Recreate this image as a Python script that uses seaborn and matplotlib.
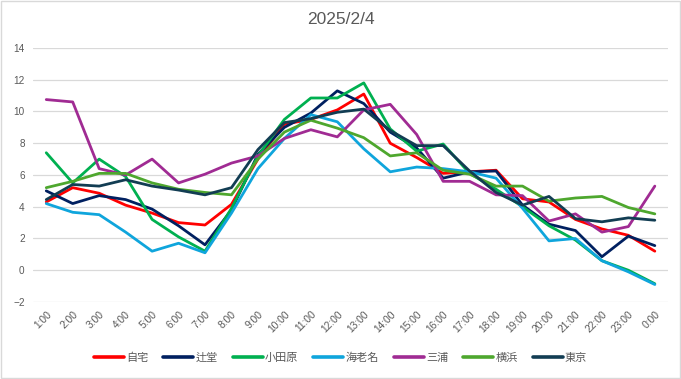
import seaborn as sns
import matplotlib.pyplot as plt
import pandas as pd

hours = ["1:00", "2:00", "3:00", "4:00", "5:00", "6:00", "7:00", "8:00", "9:00", "10:00",
         "11:00", "12:00", "13:00", "14:00", "15:00", "16:00", "17:00", "18:00", "19:00",
         "20:00", "21:00", "22:00", "23:00", "0:00"]

jitaku = [4.3, 5.2, 4.85, 4.1, 3.6, 3.0, 2.85, 4.15, 7.0, 9.2, 9.5, 10.1,
          11.1, 8.0, 7.1, 6.1, 6.2, 6.3, 4.5, 4.3, 3.2, 2.6, 2.2, 1.2]
tsujido = [5.0, 4.2, 4.7, 4.45, 3.85, 2.8, 1.6, 3.8, 7.3, 9.0, 9.9, 11.3,
           10.5, 8.7, 7.7, 5.8, 6.2, 6.25, 4.1, 2.9, 2.5, 0.85, 2.15, 1.55]
odawara = [7.4, 5.5, 7.0, 5.9, 3.2, 2.1, 1.2, 3.9, 7.2, 9.5, 10.85, 10.85,
           11.8, 8.9, 7.5, 7.95, 6.1, 5.1, 4.0, 2.8, 1.9, 0.6, 0.0, -0.85]
ebina = [4.2, 3.65, 3.5, 2.4, 1.2, 1.7, 1.1, 3.6, 6.4, 8.3, 9.8, 9.35,
         7.65, 6.2, 6.5, 6.4, 6.2, 5.8, 3.9, 1.85, 2.0, 0.6, -0.1, -0.9]
miura = [10.75, 10.6, 6.4, 6.0, 7.0, 5.5, 6.05, 6.75, 7.2, 8.3, 8.85, 8.4,
         10.1, 10.45, 8.55, 5.6, 5.6, 4.75, 4.7, 3.1, 3.55, 2.4, 2.75, 5.3]
yokohama = [5.2, 5.6, 6.1, 6.1, 5.5, 5.1, 4.9, 4.75, 7.0, 8.7, 9.45, 8.95,
            8.35, 7.2, 7.4, 6.3, 6.05, 5.3, 5.3, 4.35, 4.55, 4.65, 3.95, 3.55]
tokyo = [4.45, 5.4, 5.3, 5.7, 5.3, 5.05, 4.75, 5.2, 7.6, 9.3, 9.55, 9.95,
         10.15, 8.8, 7.85, 7.85, 6.25, 4.9, 4.1, 4.65, 3.25, 3.05, 3.3, 3.15]

places = ["自宅", "辻堂", "小田原", "海老名", "三浦", "横浜", "東京"]
colors = ["#FF0000", "#002060", "#00B050", "#0FA5DC", "#A02B93", "#4EA72E", "#123D53"]

series = [jitaku, tsujido, odawara, ebina, miura, yokohama, tokyo]
rows = []
for name, vals in zip(places, series):
    for i, v in enumerate(vals):
        rows.append({"pos": i, "place": name, "temp": v})
df = pd.DataFrame(rows)

sns.set_style("white")
plt.rcParams['font.family'] = ['Liberation Sans', 'Noto Sans CJK JP', 'DejaVu Sans']

fig = plt.figure(figsize=(6.81, 3.79), dpi=100)
ax = fig.add_axes([0.0485, 0.2032, 0.9325, 0.6702])

sns.lineplot(data=df, x="pos", y="temp", hue="place", hue_order=places,
             palette=colors, linewidth=2.0, ax=ax, legend=True)

ax.set_xlim(-0.5, 23.5)
ax.set_ylim(-2, 14)
ax.set_yticks(range(-2, 15, 2))
ax.set_xticks(range(len(hours)))
ax.set_xticklabels(hours, rotation=45, ha="right", rotation_mode="anchor")
ax.tick_params(axis="y", labelsize=7.2, colors="#595959", length=0, pad=6)
ax.tick_params(axis="x", labelsize=7.4, colors="#595959", length=0, pad=5)
ax.grid(axis="y", color="#D9D9D9", linewidth=0.9)
ax.set_axisbelow(True)
for s in ax.spines.values():
    s.set_visible(False)
ax.set_xlabel("")
ax.set_ylabel("")

fig.suptitle("2025/2/4", y=0.968, fontsize=12.5, color="#595959")

handles, labels = ax.get_legend_handles_labels()
for h in handles:
    h.set_linewidth(2.6)
ax.legend_.remove()
fig.legend(handles, labels, loc="center", bbox_to_anchor=(0.5, 0.055), ncol=7,
           frameon=False, fontsize=8, handlelength=2.7, handletextpad=0.2,
           columnspacing=1.35, labelcolor="#595959")

fig.patches.append(plt.Rectangle((0.001, 0.002), 0.997, 0.995, transform=fig.transFigure,
                                 fill=False, edgecolor="#D9D9D9", linewidth=1))

plt.savefig("out.png", dpi=100)
